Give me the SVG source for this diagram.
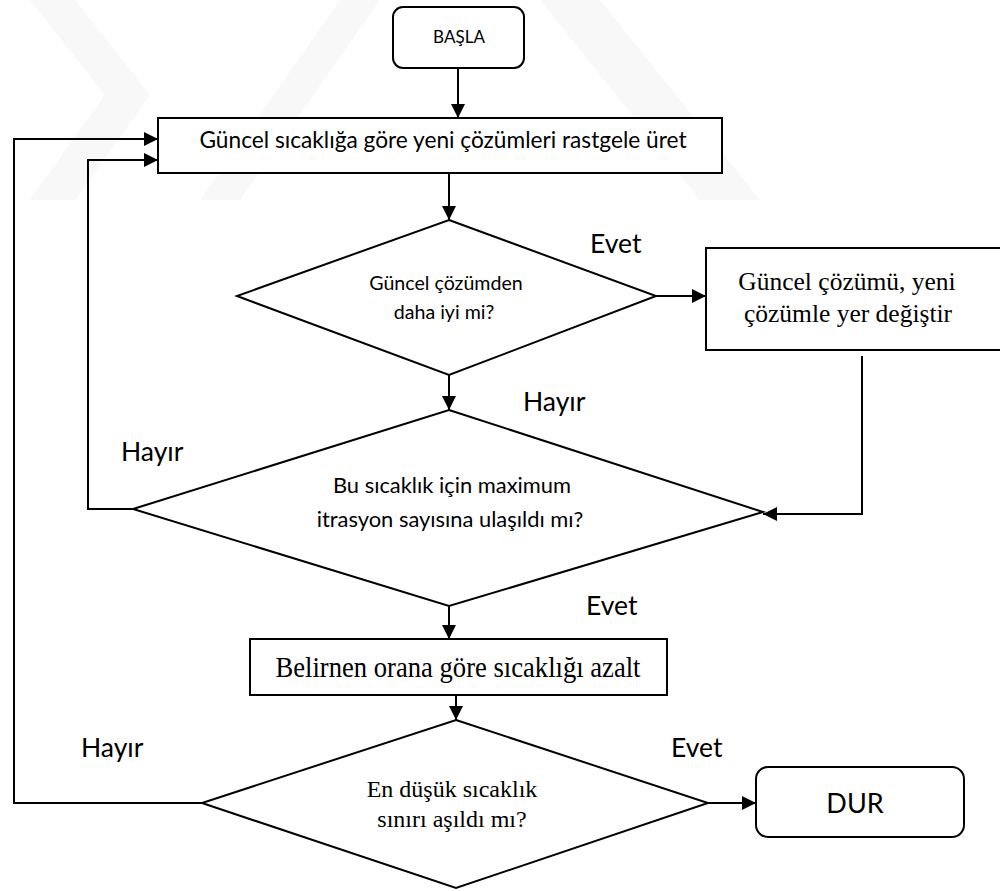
<svg xmlns="http://www.w3.org/2000/svg" width="1000" height="891" viewBox="0 0 1000 891">
  <style>
    .box { fill: #ffffff; stroke: #000000; stroke-width: 2; }
    .wire { fill: none; stroke: #000000; stroke-width: 2; }
    .sans { font-family: Lato, "Open Sans", "Noto Sans", sans-serif; fill: #000000; text-anchor: middle; }
    .serif { font-family: "Liberation Serif", "Times New Roman", serif; fill: #000000; text-anchor: middle; }
    .tag { font-family: Lato, "Open Sans", "Noto Sans", sans-serif; fill: #000000; font-size: 26.5px; }
    .mark { fill: #f8f8f8; }
  </style>
  <defs>
    <marker id="head" viewBox="0 0 10 10" refX="10" refY="5" markerWidth="7" markerHeight="7" markerUnits="strokeWidth" orient="auto">
      <path d="M0,0 L10,5 L0,10 Z" fill="#000000"/>
    </marker>
  </defs>

  <!-- faint background watermark -->
  <g id="watermark">
    <polygon class="mark" points="30,0 75,0 150,95 75,200 30,200 105,95"/>
    <polygon class="mark" points="540,0 600,0 760,200 700,200"/>
    <polygon class="mark" points="200,200 240,200 380,0 340,0"/>
  </g>

  <!-- connectors -->
  <g id="connectors">
    <line class="wire" x1="458" y1="68" x2="458" y2="118" marker-end="url(#head)"/>
    <line class="wire" x1="449" y1="173" x2="449" y2="220" marker-end="url(#head)"/>
    <line class="wire" x1="656" y1="296" x2="706" y2="296" marker-end="url(#head)"/>
    <line class="wire" x1="449" y1="375" x2="449" y2="410" marker-end="url(#head)"/>
    <polyline class="wire" points="862,356 862,514 763,514" marker-end="url(#head)"/>
    <polyline class="wire" points="133,509 88,509 88,160 158,160" marker-end="url(#head)"/>
    <line class="wire" x1="449" y1="606" x2="449" y2="639" marker-end="url(#head)"/>
    <line class="wire" x1="456" y1="695" x2="456" y2="720" marker-end="url(#head)"/>
    <polyline class="wire" points="202,803 14,803 14,139 158,139" marker-end="url(#head)"/>
    <line class="wire" x1="708" y1="803" x2="756" y2="803" marker-end="url(#head)"/>
  </g>

  <!-- branch labels -->
  <g id="labels">
    <text class="tag" x="590" y="253">Evet</text>
    <text class="tag" x="523" y="411">Hayır</text>
    <text class="tag" x="121" y="461">Hayır</text>
    <text class="tag" x="586" y="615">Evet</text>
    <text class="tag" x="81" y="757">Hayır</text>
    <text class="tag" x="671" y="757">Evet</text>
  </g>

  <g id="start">
    <rect class="box" x="393" y="7" width="131" height="61" rx="10"/>
    <text class="sans" x="459" y="43" font-size="17">BAŞLA</text>
  </g>

  <g id="generate">
    <rect class="box" x="158" y="118" width="564" height="55"/>
    <text class="sans" x="443" y="147.5" font-size="22.7">Güncel sıcaklığa göre yeni çözümleri rastgele üret</text>
  </g>

  <g id="better">
    <polygon class="box" points="449,220 656,296 449,375 237,296"/>
    <text class="sans" x="446" y="290" font-size="19.6">Güncel çözümden</text>
    <text class="sans" x="444" y="319" font-size="19.6">daha iyi mi?</text>
  </g>

  <g id="replace">
    <rect class="box" x="706" y="248" width="296" height="102"/>
    <text class="serif" x="847" y="290" font-size="25.5">Güncel çözümü, yeni</text>
    <text class="serif" x="848" y="322" font-size="25.5">çözümle yer değiştir</text>
  </g>

  <g id="max-iter">
    <polygon class="box" points="449,410 763,512 449,606 133,509"/>
    <text class="sans" x="452" y="493" font-size="21.9">Bu sıcaklık için maximum</text>
    <text class="sans" x="450" y="527" font-size="21.9">itrasyon sayısına ulaşıldı mı?</text>
  </g>

  <g id="cool">
    <rect class="box" x="250" y="639" width="417" height="56"/>
    <text class="serif" x="458" y="677" font-size="30" textLength="365" lengthAdjust="spacingAndGlyphs">Belirnen orana göre sıcaklığı azalt</text>
  </g>

  <g id="min-temp">
    <polygon class="box" points="456,720 708,803 456,888 202,803"/>
    <text class="serif" x="452" y="797" font-size="24">En düşük sıcaklık</text>
    <text class="serif" x="452" y="827" font-size="24">sınırı aşıldı mı?</text>
  </g>

  <g id="stop">
    <rect class="box" x="756" y="767" width="208" height="70" rx="12"/>
    <text class="sans" x="855" y="813" font-size="27">DUR</text>
  </g>
</svg>
